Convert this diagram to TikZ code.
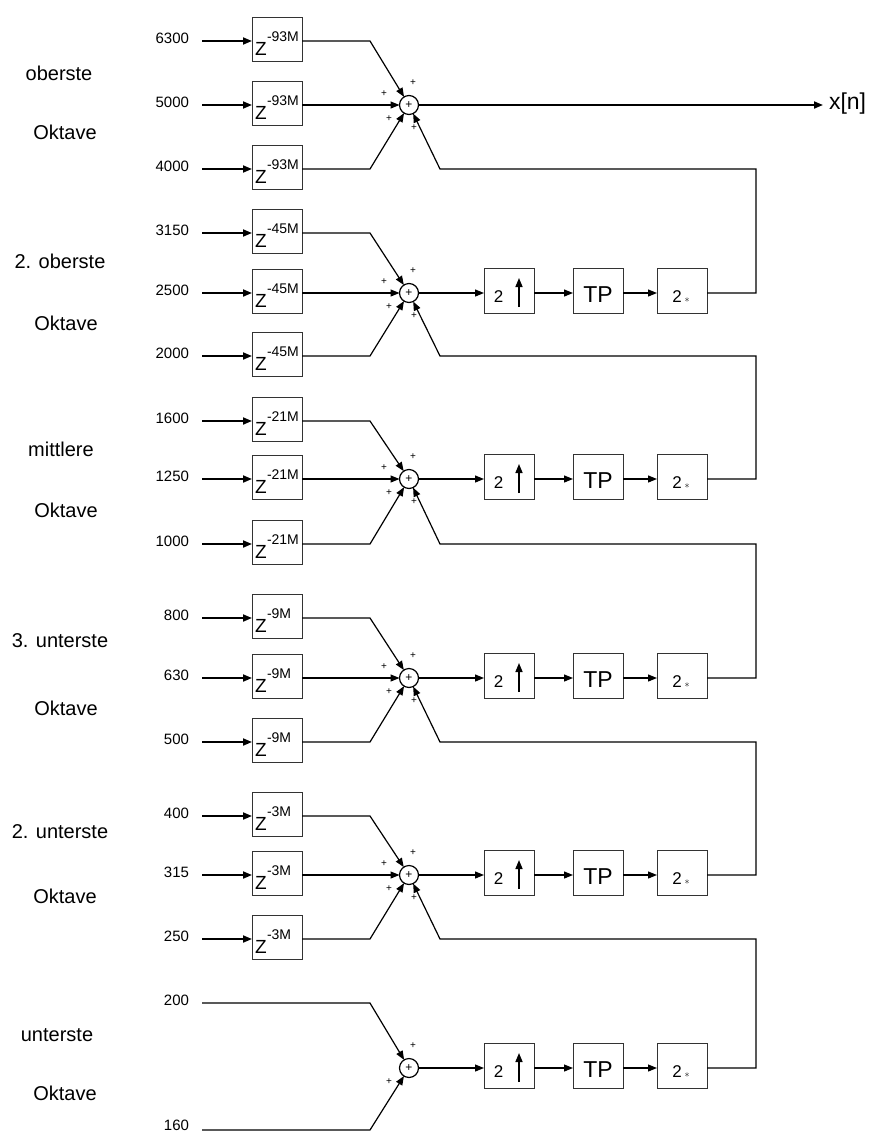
\documentclass[tikz,border=0pt]{standalone}
\usepackage{fontspec}
\setmainfont{Liberation Sans}
\usetikzlibrary{arrows.meta,calc}
\tikzset{
 every node/.style={inner sep=0pt, outer sep=0pt},
 arr/.style={-{Triangle[length=9pt,width=7pt]}},
 inwire/.style={line width=1.8pt},
 wire/.style={line width=1.2pt},
 zbox/.style={draw=black!80, line width=1pt, minimum width=50pt, minimum height=44pt},
 cbox/.style={draw=black!80, line width=1pt, minimum width=50pt, minimum height=45pt},
 sumnode/.style={circle, draw, line width=1.2pt, minimum size=19pt, font=\fontsize{12}{12}\selectfont},
 numlab/.style={anchor=east, font=\fontsize{15}{15}\selectfont},
 octlab/.style={font=\fontsize{20}{20}\selectfont},
 pl/.style={font=\fontsize{10}{10}\selectfont},
}
\newcommand\zrow[4]{%
  \node[numlab] (#1n) at (189,{#2-3}) {#3};
  \coordinate (#1s) at (202,#2);
  \node[zbox] (#1b) at (277,{#2-2}) {};
  \node[anchor=base west, font=\fontsize{19}{19}\selectfont] (#1z) at ($(#1b.center)+(-22,16)$) {Z};
  \node[anchor=base west, font=\fontsize{14}{14}\selectfont] (#1e) at ($(#1b.center)+(-10,2)$) {-#4M};
  \draw[inwire,arr] (#1s) -- (#1s -| #1b.west);
}
\newcommand\zgroup[8]{%
  \zrow{#1a}{#2}{#5}{#8}
  \zrow{#1b}{#3}{#6}{#8}
  \zrow{#1c}{#4}{#7}{#8}
  \node[sumnode] (#1S) at (409,#3) {+};
  \coordinate (#1ka) at (370,#2);
  \coordinate (#1kc) at (370,#4);
  \draw[wire,arr] (#1ab.east |- #1as) -- (#1ka) -- (#1S);
  \draw[wire,arr] (#1bb.east |- #1bs) -- (#1S);
  \draw[wire,arr] (#1cb.east |- #1cs) -- (#1kc) -- (#1S);
  \node[pl] (#1p1) at ($(#1S)+(4,-22)$) {+};
  \node[pl] (#1p2) at ($(#1S)+(-25,-11)$) {+};
  \node[pl] (#1p3) at ($(#1S)+(-20,14)$) {+};
  \node[pl] (#1p4) at ($(#1S)+(5,23)$) {+};
}
\newcommand\rchain[4]{%
  \node[cbox] (#1U) at (509,{#2-2}) {};
  \node[font=\fontsize{17}{17}\selectfont] (#1Ut) at ($(#1U)+(-10.5,6)$) {2};
  \draw[line width=1.5pt,-{Triangle[length=9pt,width=7pt]}] ($(#1U)+(10,16)$) -- ($(#1U)+(10,-13)$);
  \node[cbox] (#1T) at (598,{#2-2}) {};
  \node[font=\fontsize{23}{23}\selectfont] (#1Tt) at ($(#1T)+(0,4)$) {TP};
  \node[cbox] (#1M) at (682,{#2-2}) {};
  \node[font=\fontsize{17}{17}\selectfont] (#1Mt) at ($(#1M)+(-1,6)$) {2\,\raisebox{0.5pt}{\fontsize{10}{10}\selectfont$\ast$}};
  \coordinate (#1r) at (756,#2);
  \coordinate (#1q) at (756,#4);
  \coordinate (#1o) at (440,#4);
  \draw[wire,arr] (#1S) -- (#1U.west |- #1S);
  \draw[wire,arr] (#1U.east |- #1S) -- (#1T.west |- #1S);
  \draw[wire,arr] (#1T.east |- #1S) -- (#1M.west |- #1S);
  \draw[wire,arr] (#1M.east |- #1S) -- (#1r) -- (#1q) -- (#1o) -- (#3S);
}
\begin{document}
\begin{tikzpicture}[x=1pt,y=-1pt]
\fill[white] (0,0) rectangle (872,1133);
\useasboundingbox (0,0) rectangle (872,1133);

\zgroup{gA}{41}{105}{169}{6300}{5000}{4000}{93}
\zgroup{gB}{233}{293}{356}{3150}{2500}{2000}{45}
\zgroup{gC}{421}{479}{544}{1600}{1250}{1000}{21}
\zgroup{gD}{618}{678}{742}{800}{630}{500}{9}
\zgroup{gE}{816}{875}{939}{400}{315}{250}{3}

% bottom group
\node[numlab] (gFan) at (189,1000) {200};
\node[numlab] (gFcn) at (189,1125) {160};
\coordinate (gFas) at (202,1003);
\coordinate (gFcs) at (202,1130);
\coordinate (gFka) at (370,1003);
\coordinate (gFkc) at (370,1130);
\node[sumnode] (gFS) at (409,1068) {+};
\draw[wire,arr] (gFas) -- (gFka) -- (gFS);
\draw[wire,arr] (gFcs) -- (gFkc) -- (gFS);
\node[pl] (gFp1) at ($(gFS)+(4,-22)$) {+};
\node[pl] (gFp3) at ($(gFS)+(-20,14)$) {+};

\rchain{gB}{293}{gA}{169}
\rchain{gC}{479}{gB}{356}
\rchain{gD}{678}{gC}{544}
\rchain{gE}{875}{gD}{742}
\rchain{gF}{1068}{gE}{939}

% output
\node[anchor=west, inner xsep=6pt, font=\fontsize{23}{23}\selectfont] (xn) at (823,104) {x[n]};
\draw[inwire,arr] (gAS) -- (xn.west |- gAS);

% octave labels
\node[octlab] (o1) at (59,73) {oberste};
\node[octlab] (o1k) at (65,132) {Oktave};
\node[octlab] (o2) at (60,261) {2. oberste};
\node[octlab] (o2k) at (66,323) {Oktave};
\node[octlab] (o3) at (61,449) {mittlere};
\node[octlab] (o3k) at (66,510) {Oktave};
\node[octlab] (o4) at (60,641) {3. unterste};
\node[octlab] (o4k) at (66,708) {Oktave};
\node[octlab] (o5) at (60,832) {2. unterste};
\node[octlab] (o5k) at (65,896) {Oktave};
\node[octlab] (o6) at (57,1035) {unterste};
\node[octlab] (o6k) at (65,1093) {Oktave};
\end{tikzpicture}
\end{document}
